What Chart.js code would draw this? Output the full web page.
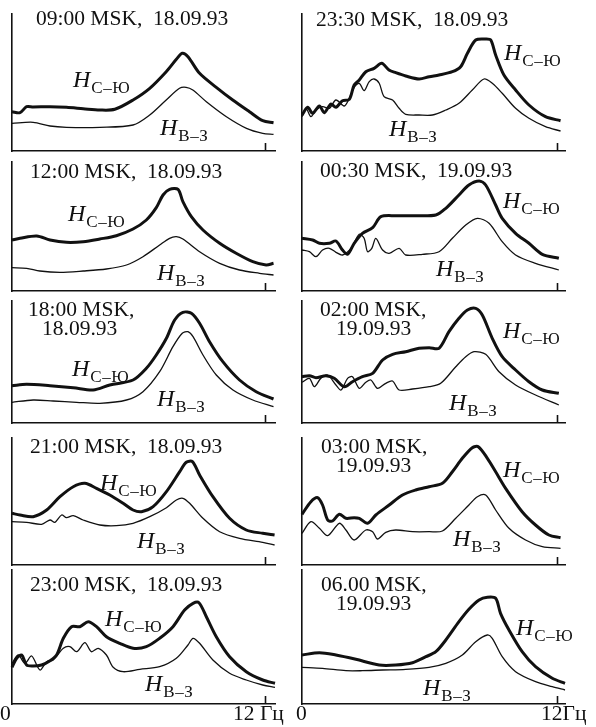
<!DOCTYPE html>
<html><head><meta charset="utf-8">
<script src="https://cdn.jsdelivr.net/npm/chart.js@4/dist/chart.umd.min.js"></script>
<style>
body{margin:0;background:#fff;width:596px;height:727px;position:relative;overflow:hidden;font-family:"Liberation Serif","Times New Roman",serif;color:#111}
canvas{position:absolute}
.t{position:absolute;font-size:21.5px;line-height:21.5px;white-space:pre}
.h{position:absolute;font-size:24px;line-height:24px;white-space:nowrap}
.h i{font-style:italic}
.h span{font-size:17px;position:relative;top:6px;letter-spacing:0.5px;margin-left:1px}
</style></head><body>
<script>
// Frequency axis (Hz) and tick labels
const freqMaxLeft = 12.45;
const freqMaxRight = 12.4;
const markedFreq = 12;
const tickLabels = ["0", "12 Гц", "0", "12Гц"];

// Panel titles
const titles = ["09:00 MSK,  18.09.93","23:30 MSK,  18.09.93","12:00 MSK,  18.09.93","00:30 MSK,  19.09.93",
  "18:00 MSK,\n18.09.93","02:00 MSK,\n19.09.93","21:00 MSK,  18.09.93","03:00 MSK,\n19.09.93",
  "23:00 MSK,  18.09.93","06.00 MSK,\n19.09.93"];

// Spectra: [frequency Hz, amplitude a.u.]  (C = H С-Ю thick, B = H В-З thin)
const c0900 = [[0,39.3],[0.38,38.3],[0.69,44.3],[1.0,44],[1.8,44.3],[2.58,43.7],[3.37,42.3],[4.16,41],[4.87,41.7],[5.73,51],[6.52,62.7],[7.3,79.3],[7.78,91.7],[8.06,97.7],[8.33,94.3],[8.88,77.7],[9.67,63.7],[10.45,51],[11.24,39.3],[11.87,30.3],[12.38,28.3]];
const b0900 = [[0,27.7],[1.0,28.7],[1.8,25],[2.58,23.7],[4.16,23.7],[5.73,26],[6.52,36],[7.3,51],[7.93,62.7],[8.24,63.7],[8.56,61],[9.2,49.3],[10.15,34.3],[11.1,22.7],[11.87,17.7],[12.38,16.7]];

const c2330 = [[0,36],[0.27,43.7],[0.5,37.7],[0.82,45],[1.05,38.3],[1.36,47],[1.6,43.7],[1.91,50.3],[2.23,51.7],[2.46,66],[2.7,71],[3.01,79.3],[3.4,82.7],[3.76,87.7],[4.1,81],[4.42,78.3],[4.89,75],[5.52,72],[6.0,74.3],[6.46,76],[7.09,79.3],[7.48,84.3],[7.8,97.7],[8.19,111],[8.66,112],[8.9,111],[9.13,96],[9.52,76],[10.07,61],[10.7,46],[11.48,34.3],[12.19,30.3]];
const b2330 = [[0,34.3],[0.19,42.7],[0.42,34.3],[0.66,41],[0.97,44.3],[1.29,42.7],[1.6,51],[1.99,45],[2.23,52.7],[2.46,63.7],[2.7,67.7],[2.93,60.3],[3.17,69.3],[3.4,72],[3.64,67.7],[3.87,54.3],[4.27,51],[4.58,42.7],[4.89,36.7],[5.52,36],[6.15,36],[6.78,41],[7.4,47.7],[8.03,61],[8.58,72],[8.97,67.7],[9.44,57.7],[10.07,42.7],[10.7,32.7],[11.48,24.3],[12.19,20]];

const c1200 = [[0,51],[0.38,52.7],[1.17,55],[1.8,51],[2.58,48.7],[3.37,49.3],[4.16,52],[4.94,55.3],[5.73,62],[6.36,71],[6.83,83.3],[7.15,96],[7.46,101.7],[7.86,101.7],[8.09,89.3],[8.49,74.3],[9.04,61],[9.83,47.7],[10.61,37.7],[11.4,29.3],[12.03,26],[12.38,27.7]];
const b1200 = [[0,23.3],[0.69,22.7],[1.32,20],[2.27,18.7],[3.37,20],[4.47,22],[5.42,26],[6.2,34.3],[6.99,46],[7.46,52.7],[7.78,54.3],[8.09,52],[8.88,39.3],[9.83,27.7],[10.77,21],[11.72,17.7],[12.38,16]];

const c0030 = [[0,52.7],[0.5,51],[0.82,47.7],[1.29,47.7],[1.6,50],[1.91,41],[2.15,36.7],[2.46,47.7],[2.85,57.7],[3.33,63.3],[3.72,74.3],[4.42,75.3],[5.21,75.3],[6.31,76],[6.78,82.7],[7.4,96],[7.87,106],[8.35,110],[8.66,106],[9.13,86],[9.44,72.7],[10.07,57.7],[10.7,47.7],[11.33,36.7],[12.11,32.7]];
const b0030 = [[0,41],[0.35,39.3],[0.66,34.3],[0.97,41],[1.29,42.7],[1.6,38.7],[1.91,36],[2.31,42.7],[2.7,56.7],[2.93,52.7],[3.09,39.3],[3.29,42.7],[3.48,52.7],[3.8,41],[4.11,37.7],[4.58,42.7],[4.89,36],[5.68,36.7],[6.46,39.3],[7.09,52.7],[7.72,66],[8.27,72.7],[8.82,67.7],[9.44,49.3],[10.07,36],[11.01,27.7],[12.11,21]];

const c1800 = [[0,37.3],[0.69,38.7],[1.8,37.3],[2.9,35.3],[3.84,33],[4.63,38],[5.73,43],[6.36,54.7],[6.83,68],[7.31,84.7],[7.7,103],[8.09,110.7],[8.49,109.7],[8.88,99.7],[9.35,81.3],[9.98,61.3],[10.77,43],[11.56,31.3],[12.38,24]];
const b1800 = [[0,20.7],[1.0,23],[1.95,22],[3.06,20.7],[4.16,19.7],[5.42,23],[6.2,31.3],[6.99,51.3],[7.62,76.3],[8.06,89.7],[8.33,91.3],[8.57,86.3],[9.04,68],[9.67,48],[10.46,33],[11.4,23],[12.38,16.3]];

const c0200 = [[0,46.3],[0.35,47.3],[0.66,45.3],[1.13,47.3],[1.52,44.7],[1.99,36.3],[2.38,41.3],[2.85,46.3],[3.33,49.7],[3.8,63],[4.27,68.7],[4.89,71.3],[5.52,74.7],[6.0,75.3],[6.46,74.7],[6.93,91.3],[7.4,104.7],[7.8,113],[8.19,114.7],[8.5,108],[8.97,84.7],[9.44,66.3],[10.07,53],[10.7,41.3],[11.33,33],[12.11,29.7]];
const b0200 = [[0,40.7],[0.35,44.7],[0.58,36.3],[0.89,44.7],[1.21,48],[1.6,38],[1.84,33],[2.15,44.7],[2.38,46.3],[2.7,34.7],[3.01,40.7],[3.25,43],[3.56,34.7],[3.95,39.7],[4.27,42],[4.58,33],[5.21,34],[6.0,36.3],[6.54,39.7],[7.25,56.3],[7.72,66.3],[8.11,71.3],[8.66,68.7],[9.29,51.3],[10.07,38],[11.01,28],[12.11,18]];

const c2100 = [[0,51.7],[0.38,50],[1.0,48.3],[1.64,55],[2.27,68.3],[2.9,78.3],[3.45,81.7],[4.0,76.7],[4.63,70],[5.26,61.7],[5.73,55],[6.13,53.3],[6.68,58.3],[7.31,73.3],[7.94,93.3],[8.25,102.7],[8.54,103.3],[8.88,90],[9.51,68.3],[10.3,46.7],[11.09,35],[11.87,31.7],[12.43,30]];
const b2100 = [[0,43.3],[0.69,42.7],[1.4,40.7],[1.8,45],[2.03,42.7],[2.35,50],[2.58,47.3],[2.9,49.3],[3.37,45],[4.16,40],[4.94,39.3],[5.73,41.7],[6.52,48.3],[7.31,57.3],[7.78,65],[8.09,66.7],[8.41,61.7],[9.04,46.7],[9.83,33.3],[10.77,26.7],[11.87,22.7],[12.43,20]];

const c0300 = [[0,50.7],[0.42,63.3],[0.74,67.3],[0.97,60],[1.21,45],[1.44,44],[1.76,50.7],[2.07,46.7],[2.46,47.3],[2.7,46.7],[3.09,41.7],[3.48,50],[4.11,60],[4.74,70],[5.36,75],[5.99,78.3],[6.62,81.7],[7.09,93.3],[7.56,106.7],[8.03,117.3],[8.31,118.3],[8.74,106.7],[9.13,93.3],[9.6,76.7],[10.38,53.3],[11.01,40],[11.64,30],[12.19,27.3]];
const b0300 = [[0,31.7],[0.42,43.3],[0.82,36.7],[1.21,29.3],[1.76,41.7],[2.07,35],[2.46,25],[3.01,35],[3.33,33.3],[3.56,26],[3.95,32.7],[4.42,35],[5.21,33.3],[5.99,33.3],[6.62,34],[7.25,46.7],[7.87,60],[8.27,68.3],[8.66,70],[9.13,55],[9.76,36.7],[10.54,25],[11.33,18.3],[12.19,16.7]];

const c2300 = [[0,36.7],[0.22,45.7],[0.46,49],[0.69,39],[1.0,38],[1.4,39],[1.8,43.3],[2.11,49],[2.43,65.7],[2.82,77.3],[3.21,77.3],[3.61,82.3],[4.0,77.3],[4.47,67.3],[5.1,60.7],[5.73,55.7],[6.36,57.3],[6.99,65.7],[7.62,77.3],[8.17,94],[8.57,100.7],[8.85,101.3],[9.2,87.3],[9.67,67.3],[10.3,47.3],[11.09,32.3],[11.87,24],[12.45,20.7]];
const b2300 = [[0,40.7],[0.3,49],[0.61,40.7],[0.93,48],[1.32,34],[1.64,42.3],[1.95,44],[2.43,55.7],[2.74,57.3],[3.06,52.3],[3.45,61.3],[3.76,52.3],[4.08,55.7],[4.47,49],[4.79,36.7],[5.26,32.3],[6.05,34.7],[6.99,37.3],[7.78,45.7],[8.33,59],[8.57,65.7],[8.88,60.7],[9.51,44],[10.3,30.7],[11.09,24],[11.87,19],[12.45,16.7]];

const c0600 = [[0,49],[0.82,51.3],[1.6,49],[2.54,44.7],[3.64,39],[4.42,39],[5.21,41.3],[5.84,47.3],[6.31,52.3],[6.78,64],[7.4,82.3],[7.87,94.7],[8.35,104],[8.74,106.7],[9.13,105.7],[9.36,90.7],[9.76,74],[10.38,52.3],[11.01,37.3],[11.8,25.7],[12.4,20.7]];
const b0600 = [[0,36.7],[0.97,35.7],[2.07,33.3],[2.85,33.3],[3.8,34],[4.89,34.7],[5.99,36.7],[6.78,40.7],[7.56,49],[8.19,62.3],[8.74,69],[8.97,65.7],[9.44,47.3],[10.07,32.3],[11.01,22.3],[11.8,17.3],[12.4,14]];

// Layout (pixels) — panel boxes: [axisLeft, axisTop, axisRight, axisBottom]
const panels = [
  {c:c0900,b:b0900,box:[12,14,275,151],xmax:freqMaxLeft},
  {c:c2330,b:b2330,box:[302,14,565,151],xmax:freqMaxRight},
  {c:c1200,b:b1200,box:[12,162,275,291],xmax:freqMaxLeft},
  {c:c0030,b:b0030,box:[302,162,565,291],xmax:freqMaxRight},
  {c:c1800,b:b1800,box:[12,301,275,423],xmax:freqMaxLeft},
  {c:c0200,b:b0200,box:[302,301,565,423],xmax:freqMaxRight},
  {c:c2100,b:b2100,box:[12,438,275,565],xmax:freqMaxLeft},
  {c:c0300,b:b0300,box:[302,438,565,565],xmax:freqMaxRight},
  {c:c2300,b:b2300,box:[12,570,275,704],xmax:freqMaxLeft},
  {c:c0600,b:b0600,box:[302,570,565,704],xmax:freqMaxRight}
];
const titlePos = [[36,8],[316,8.5],[30,160.5],[320,160],[28,298.7],[320,298.5],[30,435.5],[321,436],[30,574],[321,574]];
const line2dx = [0,0,0,0,14,16,0,15,0,15];
const labelPos = [[73,67,115,160],[504,40,116,389],[68,201,260,157],[503,188,256,436],[72,356,386,157],[503,318,390,449],[100,470,528,137],[503,457,526,453],[105,606,671,145],[516,615,675,423]];

const ink = '#111';
const PAD = 5;
const tickPlugin = {id:'hzTick', afterDraw(chart){
  const xs = chart.scales.x, ys = chart.scales.y, ctx = chart.ctx;
  const px = Math.round(xs.getPixelForValue(markedFreq)) + 0.5, py = ys.getPixelForValue(0);
  ctx.save(); ctx.strokeStyle = ink; ctx.lineWidth = 1.6;
  ctx.beginPath(); ctx.moveTo(px, py); ctx.lineTo(px, py - 8); ctx.stroke(); ctx.restore();
}};

const toXY = a => a.map(p => ({x:p[0], y:p[1]}));

panels.forEach((p, i) => {
  const [l, t, r, btm] = p.box;
  const w = r - l, h = btm - t;
  const cv = document.createElement('canvas');
  cv.width = w + 2*PAD; cv.height = h + 2*PAD;
  cv.style.left = (l - PAD) + 'px'; cv.style.top = (t - PAD) + 'px';
  document.body.appendChild(cv);
  new Chart(cv, {
    type:'line',
    data:{datasets:[
      {data:toXY(p.b), borderColor:ink, borderWidth:1.3, pointRadius:0, tension:0.3, clip:false},
      {data:toXY(p.c), borderColor:ink, borderWidth:3, pointRadius:0, tension:0.3, clip:false}
    ]},
    options:{
      responsive:false, animation:false, devicePixelRatio:1,
      layout:{padding:PAD},
      plugins:{legend:{display:false}, tooltip:{enabled:false}},
      scales:{
        x:{type:'linear', min:0, max:p.xmax, grid:{display:false}, ticks:{display:false},
           border:{display:true, color:ink, width:1.6}, afterFit(s){s.height = 0;}},
        y:{type:'linear', min:0, max:h, grid:{display:false}, ticks:{display:false},
           border:{display:true, color:ink, width:1.6}, afterFit(s){s.width = 0;}}
      }
    },
    plugins:[tickPlugin]
  });

  // title
  const lines = titles[i].split('\n');
  lines.forEach((ln, k) => {
    const d = document.createElement('div');
    d.className = 't'; d.textContent = ln;
    d.style.left = (titlePos[i][0] + (k ? line2dx[i] : 0)) + 'px';
    d.style.top = (titlePos[i][1] + k*19) + 'px';
    document.body.appendChild(d);
  });
  // curve labels
  const [cx, cy, by, bx] = labelPos[i];
  const mk = (x, y, sub) => {
    const d = document.createElement('div');
    d.className = 'h';
    d.innerHTML = '<i>H</i><span>' + sub + '</span>';
    d.style.left = x + 'px'; d.style.top = y + 'px';
    document.body.appendChild(d);
  };
  mk(cx, cy, 'С–Ю');
  mk(bx, by, 'В–З');
});

// axis labels under the bottom panels
const axisPos = [[0,703],[233,703],[296,703],[541,703]];
tickLabels.forEach((s, i) => {
  const d = document.createElement('div');
  d.className = 't'; d.textContent = s;
  d.style.left = axisPos[i][0] + 'px'; d.style.top = axisPos[i][1] + 'px';
  document.body.appendChild(d);
});
</script>
</body></html>
